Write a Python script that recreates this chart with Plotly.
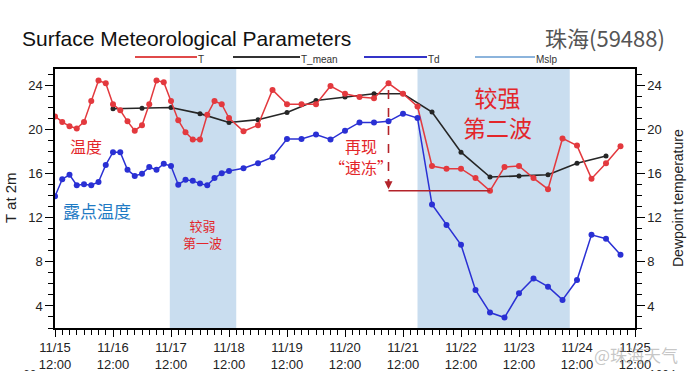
import plotly.graph_objects as go
import pandas as pd

# ---------------- data ----------------
# observation times: 3-hourly until 11/18 12:00, then 6-hourly
obs_times = list(pd.date_range("2023-11-15 12:00", "2023-11-18 12:00", freq="3h")) + \
            list(pd.date_range("2023-11-18 18:00", "2023-11-25 06:00", freq="6h"))
mean_times = list(pd.date_range("2023-11-16 12:00", "2023-11-25 00:00", freq="12h"))

t_values = [21.2, 20.7, 20.3, 20.1, 20.7, 22.6, 24.45, 24.2,
            22.3, 21.75, 20.75, 19.9, 20.4, 22.3, 24.45, 24.3,
            22.6, 20.85, 19.75, 19.1, 19.1, 21.35, 22.6, 22.3,
            21.05,
            19.85, 20.4, 23.6, 22.3, 22.3, 22.3, 23.95, 23.25, 22.95, 22.85,
            24.2, 23.25, 22.1, 16.7, 16.45, 16.45, 15.6, 14.45, 16.6, 16.7,
            15.6, 14.6, 19.2, 18.55, 15.55, 16.95, 18.5]

td_values = [13.95, 15.5, 15.9, 14.95, 15.05, 14.95, 15.25, 16.8,
             17.95, 17.95, 16.35, 15.8, 16.0, 16.6, 16.35, 16.9,
             16.7, 15.0, 15.45, 15.35, 15.1, 14.95, 15.6, 16.05,
             16.25,
             16.5, 16.95, 17.5, 19.15, 19.15, 19.55, 19.1, 19.9, 20.65, 20.65,
             20.75, 21.45, 21.05, 13.2, 11.35, 9.55, 5.45, 3.4, 2.95, 5.15,
             6.5, 5.75, 4.55, 6.35, 10.45, 10.1, 8.65]

tmean_values = [21.9, 21.95, 22.0, 21.45, 20.65, 20.9, 21.55, 22.65, 22.95,
                23.25, 23.25, 21.6, 17.95, 15.7, 15.8, 15.9, 16.95, 17.6]

tick_times = list(pd.date_range("2023-11-15 12:00", "2023-11-25 12:00", freq="D"))
tick_labels = ["11/15<br>12:00", "11/16<br>12:00", "11/17<br>12:00", "11/18<br>12:00",
               "11/19<br>12:00", "11/20<br>12:00", "11/21<br>12:00", "11/22<br>12:00",
               "11/23<br>12:00", "11/24<br>12:00", "11/25<br>12:00"]
y_ticks = [4, 8, 12, 16, 20, 24]

band1 = ("2023-11-17 11:30", "2023-11-18 15:00")
band2 = ("2023-11-21 18:00", "2023-11-24 09:00")
arrow_from = pd.Timestamp("2023-11-21 06:00")   # "再现速冻" peak
arrow_to = pd.Timestamp("2023-11-23 00:00")     # minimum after drop

# ---------------- styling helpers ----------------
L, R, T, B = 55, 55, 69, 43
W, H = 690, 371
PW, PH = W - L - R, H - T - B


def px(x):
    return (x - L) / PW


def py(y):
    return (H - B - y) / PH


NARROW = "Liberation Sans, Arial"
CJK = "Noto Sans CJK SC"
RED = "#e3393e"
BLACK = "#262626"
BLUE = "#2a30d4"
ANN_RED = "#e3262a"
DARK_RED = "#b3232a"

fig = go.Figure()

fig.add_trace(go.Scatter(x=mean_times, y=tmean_values, mode="lines+markers",
                         line=dict(color=BLACK, width=1.6), marker=dict(size=5, color=BLACK),
                         name="T_mean", showlegend=False))
fig.add_trace(go.Scatter(x=obs_times, y=t_values, mode="lines+markers",
                         line=dict(color=RED, width=1.5), marker=dict(size=6, color=RED),
                         name="T", showlegend=False))
fig.add_trace(go.Scatter(x=obs_times, y=td_values, mode="lines+markers",
                         line=dict(color=BLUE, width=1.5), marker=dict(size=6, color=BLUE),
                         name="Td", showlegend=False))
fig.add_trace(go.Scatter(x=[obs_times[0]], y=[None], mode="lines", yaxis="y2",
                         name="Mslp", showlegend=False, hoverinfo="skip"))

shapes = []
for b in (band1, band2):
    shapes.append(dict(type="rect", xref="x", yref="paper", x0=b[0], x1=b[1], y0=0, y1=1,
                       fillcolor="#c9ddef", line=dict(width=0), layer="below"))

# annotation arrow: dashed drop from peak, then horizontal to the minimum
t_peak = t_values[obs_times.index(arrow_from)]
t_min = t_values[obs_times.index(arrow_to)]
shapes.append(dict(type="line", xref="x", yref="y", x0=arrow_from, x1=arrow_from,
                   y0=t_peak - 0.6, y1=t_min + 0.5, line=dict(color=DARK_RED, width=1.6, dash="dash")))
shapes.append(dict(type="line", xref="x", yref="y", x0=arrow_from, x1=arrow_to,
                   y0=t_min, y1=t_min, line=dict(color=DARK_RED, width=1.4)))

# manual legend
legend_items = [(135, 197, "#e04a4a", "T"), (233, 300, "#333333", "T_mean"),
                (364, 427, "#3434c8", "Td"), (475, 535, "#8cb4dc", "Mslp")]
annotations = []
for x0, x1, c, name in legend_items:
    shapes.append(dict(type="line", xref="paper", yref="paper", x0=px(x0), x1=px(x1),
                       y0=py(57), y1=py(57), line=dict(color=c, width=2)))
    annotations.append(dict(xref="paper", yref="paper", x=px(x1 - 1), y=py(59), text=name,
                            showarrow=False, xanchor="left", yanchor="middle",
                            font=dict(family=NARROW, size=10, color="#333")))

annotations.append(dict(xref="x", yref="y", x=arrow_from, y=t_min + 0.15, ax=arrow_from, ay=t_min + 1.2,
                        axref="x", ayref="y", text="", showarrow=True, arrowhead=2, arrowsize=1,
                        arrowwidth=1.6, arrowcolor=DARK_RED))


def txt(x, y, s, size, color, family=CJK, **kw):
    d = dict(xref="paper", yref="paper", x=px(x), y=py(y), text=s, showarrow=False,
             xanchor="center", yanchor="middle", font=dict(family=family, size=size, color=color))
    d.update(kw)
    annotations.append(d)


txt(20, 38, "Surface Meteorological Parameters", 21, "#111", family=NARROW, xanchor="left")
txt(667, 37, "珠海(59488)", 22, "#555", xanchor="right")
txt(86, 146, "温度", 16, ANN_RED)
txt(97, 210, "露点温度", 17, "#1f7bc4")
txt(202, 234, "较弱<br>第一波", 13, ANN_RED)
txt(361, 156, "再现<br>“速冻”", 16, ANN_RED)
txt(497, 112, "较强<br>第二波", 23, ANN_RED)
txt(10, 198, "T at 2m", 15, "#222", family=NARROW, textangle=-90)
txt(678, 198, "Dewpoint temperature", 14, "#222", family=NARROW, textangle=-90)
txt(636, 354, "@珠海天气", 17, "rgba(150,150,150,0.55)")
txt(30, 366, "60", 12, "#333", family=NARROW, yanchor="top")
txt(662, 366, "1004", 12, "#333", family=NARROW, yanchor="top")

axis_common = dict(showgrid=False, zeroline=False, showline=True, linecolor="black", linewidth=1.5,
                   ticks="outside", tickcolor="black", tickwidth=1.2, automargin=False)

fig.update_layout(
    width=W, height=H, margin=dict(l=L, r=R, t=T, b=B, autoexpand=False),
    paper_bgcolor="white", plot_bgcolor="white",
    showlegend=False, shapes=shapes, annotations=annotations,
    xaxis=dict(type="date", range=[tick_times[0], tick_times[-1]], tickvals=tick_times,
               ticktext=tick_labels, ticklen=7, mirror=True,
               tickfont=dict(family=NARROW, size=13, color="#222"),
               minor=dict(ticks="outside", ticklen=5, dtick=3 * 3600 * 1000,
                          tick0="2023-11-15 12:00", tickcolor="black", showgrid=False),
               **axis_common),
    yaxis=dict(range=[2, 25.5], tickvals=y_ticks, ticklen=8,
               tickfont=dict(family=NARROW, size=13, color="#222"),
               minor=dict(ticks="outside", ticklen=5, dtick=1, tick0=0, tickcolor="black", showgrid=False),
               **axis_common),
    yaxis2=dict(range=[2, 25.5], tickvals=y_ticks, ticklen=8, overlaying="y", side="right",
                tickfont=dict(family=NARROW, size=13, color="#222"),
                minor=dict(ticks="outside", ticklen=5, dtick=1, tick0=0, tickcolor="black", showgrid=False),
                **axis_common),
)

fig.write_html("out.html", config={"displayModeBar": False},
               post_script="document.body.style.margin='0';document.body.style.overflow='hidden';")
